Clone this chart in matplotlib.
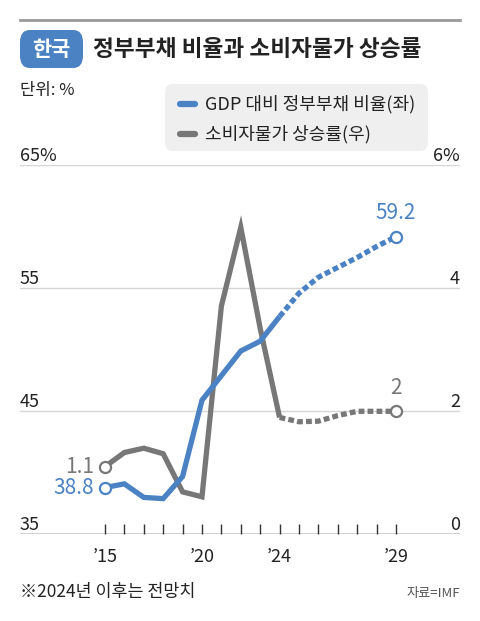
import matplotlib
matplotlib.use("Agg")
import matplotlib.pyplot as plt
from matplotlib.patches import FancyBboxPatch
from matplotlib.lines import Line2D

plt.rcParams['font.family'] = ['Noto Sans CJK KR', 'DejaVu Sans']

# data (16 evenly spaced points, labels as printed)
tick_labels = ["\u201915", "", "", "", "", "\u201920", "", "", "", "\u201924",
               "", "", "", "", "", "\u201929"]
debt = [38.8, 39.1, 38.0, 37.9, 39.7, 45.9, 47.9, 49.9, 50.7, 52.7,
        54.6, 55.9, 56.7, 57.5, 58.4, 59.2]
cpi = [1.1, 1.33, 1.4, 1.31, 0.69, 0.61, 3.71, 4.99, 3.35, 1.90,
       1.83, 1.84, 1.93, 2.0, 2.0, 2.0]
split_idx = 9  # forecast starts at '24
left_ticks = [35, 45, 55, 65]
right_ticks = [0, 2, 4, 6]

blue = "#4a82c4"
gray = "#777777"
W, H = 480, 621
x = list(range(len(debt)))

fig = plt.figure(figsize=(4.8, 6.21), dpi=100)
ax = fig.add_axes([20 / W, 1 - 534.3 / H, 440 / W, (534.3 - 165.3) / H])
ax2 = ax.twinx()

ax.set_xlim(-4.38, 18.3)
ax.set_ylim(35, 65)
ax2.set_ylim(0, 6)

for a in (ax, ax2):
    for s in a.spines.values():
        s.set_visible(False)
    a.set_yticks([])
    a.patch.set_visible(False)

# grid lines
for v in left_ticks[1:]:
    ax.axhline(v, color="#d6d6d6", lw=1.0, zorder=0)
ax.axhline(35, color="#c8c8c8", lw=1.2, zorder=0)

ax.set_xticks(x)
ax.set_xticklabels(tick_labels)
ax.tick_params(axis="x", direction="in", length=7, width=1, color="#333333",
               labelsize=13, pad=10, labelcolor="#222222")


def to_right(v):
    # left-axis value -> right-axis units
    return (v - 35) / 5


i = split_idx
lw = 3.8
dash = (0, (1.1, 0.6))
ax2.plot(x[:i + 1], cpi[:i + 1], color=gray, lw=lw, solid_joinstyle="miter",
         solid_capstyle="butt", zorder=2)
ax2.plot(x[i:], cpi[i:], color=gray, lw=lw, ls=dash, dash_capstyle="butt", zorder=2)
ax2.plot(x[:i + 1], [to_right(d) for d in debt[:i + 1]], color=blue, lw=lw,
         solid_joinstyle="miter", solid_capstyle="butt", zorder=3)
ax2.plot(x[i:], [to_right(d) for d in debt[i:]], color=blue, lw=lw, ls=dash,
         dash_capstyle="butt", zorder=3)

# end markers
for k in (0, -1):
    ax2.plot(x[k], cpi[k], "o", ms=8, mfc="white", mec=gray, mew=1.6, zorder=5)
    ax2.plot(x[k], to_right(debt[k]), "o", ms=8, mfc="white", mec=blue, mew=1.6, zorder=5)

# end labels
ax2.annotate(f"{cpi[0]}", (x[0], cpi[0]), xytext=(-8, 0), textcoords="offset points",
             ha="right", va="center", color=gray, fontsize=15)
ax2.annotate(f"{debt[0]}", (x[0], to_right(debt[0])), xytext=(-8, 0),
             textcoords="offset points", ha="right", va="center", color=blue, fontsize=15)
ax2.annotate(f"{debt[-1]}", (x[-1], to_right(debt[-1])), xytext=(0, 9),
             textcoords="offset points", ha="center", va="bottom", color=blue, fontsize=15)
ax2.annotate(f"{cpi[-1]:g}", (x[-1], cpi[-1]), xytext=(0, 9),
             textcoords="offset points", ha="center", va="bottom", color=gray, fontsize=15)

# axis value labels sitting above grid lines
for k, v in enumerate(left_ticks):
    lab = f"{v}%" if k == len(left_ticks) - 1 else f"{v}"
    ax.text(0, v, lab, transform=ax.get_yaxis_transform(), ha="left", va="bottom",
            fontsize=13, color="#222222")
for k, v in enumerate(right_ticks):
    lab = f"{v}%" if k == len(right_ticks) - 1 else f"{v}"
    ax2.text(1, v, lab, transform=ax2.get_yaxis_transform(), ha="right", va="bottom",
             fontsize=13, color="#222222")

# header
fig.add_artist(Line2D([20 / W, 460 / W], [1 - 20 / H, 1 - 20 / H], color="#999999", lw=2))
fig.add_artist(FancyBboxPatch((20 / W, 1 - 68 / H), 63 / W, 38 / H,
                              boxstyle="round,pad=0,rounding_size=0.02",
                              fc=blue, ec="none", transform=fig.transFigure))
fig.text(51.5 / W, 1 - 49 / H, "한국", color="white", fontsize=15, fontweight="bold",
         ha="center", va="center")
fig.text(93 / W, 1 - 49 / H, "정부부채 비율과 소비자물가 상승률", color="#222222",
         fontsize=16.3, fontweight="bold", ha="left", va="center")
fig.text(20 / W, 1 - 90 / H, "단위: %", fontsize=12, color="#222222", ha="left", va="center")

# legend box
fig.add_artist(FancyBboxPatch((165 / W, 1 - 151 / H), 263 / W, 67 / H,
                              boxstyle="round,pad=0,rounding_size=0.015",
                              fc="#efefef", ec="none", transform=fig.transFigure))
for yy, c, t in ((104, blue, "GDP 대비 정부부채 비율(좌)"), (134, gray, "소비자물가 상승률(우)")):
    fig.add_artist(Line2D([180 / W, 195 / W], [1 - yy / H, 1 - yy / H], color=c, lw=4.5,
                          solid_capstyle="round"))
    fig.text(205 / W, 1 - yy / H, t, fontsize=13, color="#222222", ha="left", va="center")

# footer
fig.text(20 / W, 1 - 592 / H, "※2024년 이후는 전망치", fontsize=12.5, color="#222222",
         ha="left", va="center")
fig.text(460 / W, 1 - 594 / H, "자료=IMF", fontsize=9.5, color="#555555",
         ha="right", va="center")

fig.savefig("out.png", dpi=100)
